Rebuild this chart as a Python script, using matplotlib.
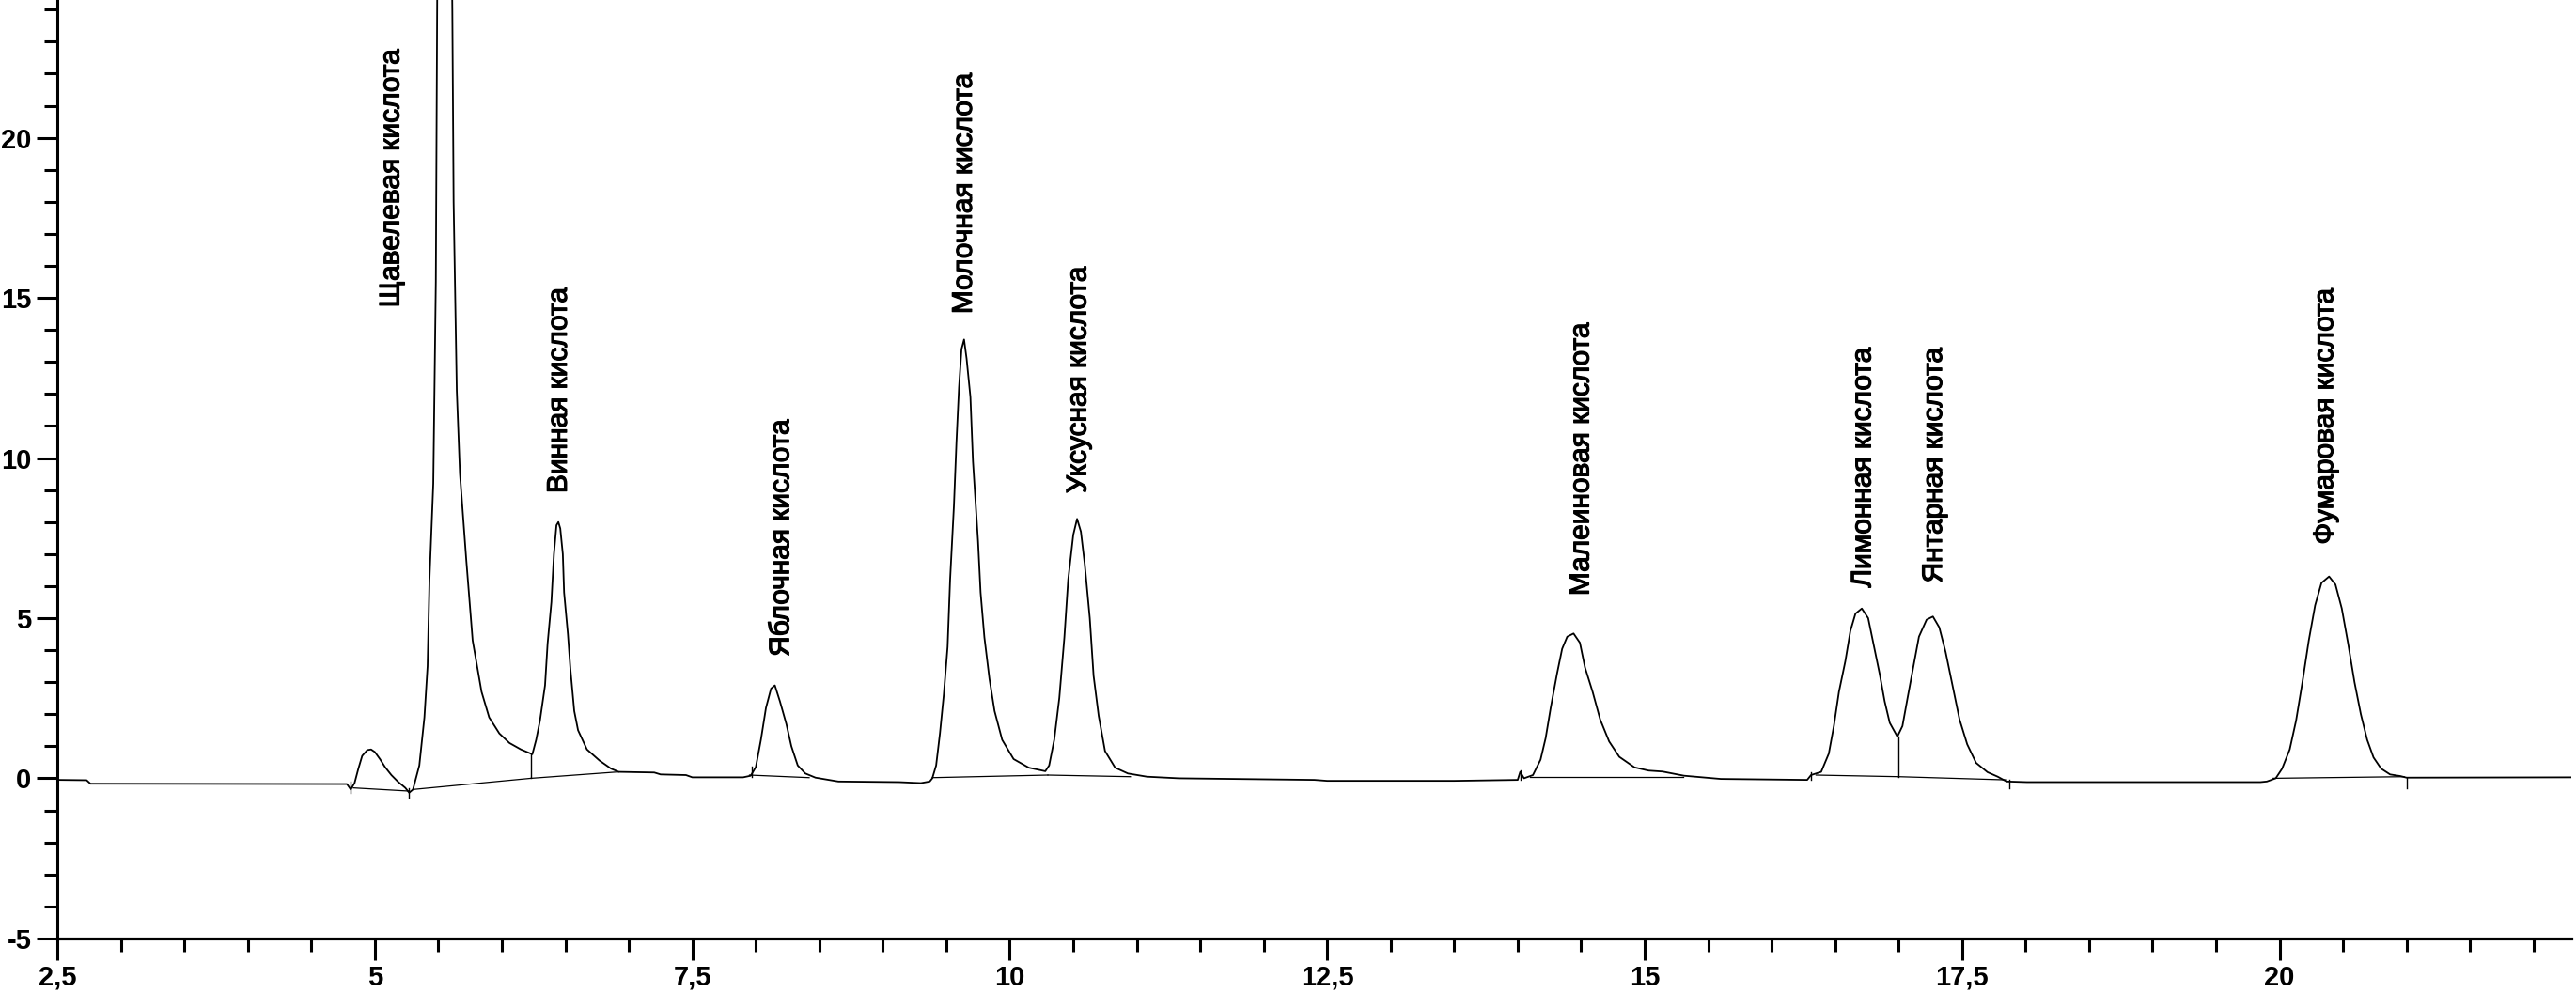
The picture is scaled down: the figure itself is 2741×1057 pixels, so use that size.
import matplotlib
matplotlib.use("Agg")
import matplotlib.pyplot as plt
import matplotlib.patheffects as pe
from matplotlib.ticker import MultipleLocator, FuncFormatter

# ---- trace (time, min ; signal) ----
trace_t = [2.50, 2.73, 2.76, 4.78, 4.81, 4.84, 4.87, 4.90, 4.94, 4.97, 5.00, 5.04, 5.08, 5.13, 5.18,
           5.24, 5.27, 5.30, 5.35, 5.39, 5.415, 5.43, 5.46, 5.48, 5.49, 5.50, 5.55, 5.60, 5.61, 5.62,
           5.645, 5.67, 5.72, 5.77, 5.84, 5.90, 5.98, 6.06, 6.15, 6.24, 6.27, 6.30, 6.34, 6.36, 6.39,
           6.41, 6.43, 6.445, 6.46, 6.48, 6.49, 6.52, 6.54, 6.57, 6.60, 6.67, 6.77, 6.86, 6.92, 7.20,
           7.25, 7.45, 7.50, 7.90, 7.96, 8.00, 8.04, 8.08, 8.12, 8.15, 8.19, 8.24, 8.28, 8.33, 8.39,
           8.47, 8.65, 9.13, 9.30, 9.37, 9.39, 9.42, 9.45, 9.48, 9.51, 9.53, 9.56, 9.58, 9.60, 9.62,
           9.64, 9.66, 9.69, 9.71, 9.75, 9.77, 9.80, 9.84, 9.88, 9.94, 10.03, 10.15, 10.28, 10.31, 10.35,
           10.39, 10.43, 10.46, 10.50, 10.53, 10.56, 10.59, 10.63, 10.66, 10.70, 10.75, 10.83, 10.93, 11.08, 11.33,
           12.4, 12.5, 13.5, 14.0, 14.02, 14.05, 14.12, 14.18, 14.22, 14.26, 14.31, 14.35, 14.39, 14.44, 14.49,
           14.53, 14.59, 14.65, 14.72, 14.80, 14.92, 15.03, 15.14, 15.31, 15.6, 16.28, 16.31, 16.39, 16.45, 16.49,
           16.53, 16.58, 16.62, 16.66, 16.71, 16.76, 16.80, 16.85, 16.89, 16.93, 16.99, 17.03, 17.07, 17.12, 17.16,
           17.22, 17.27, 17.32, 17.37, 17.43, 17.48, 17.54, 17.61, 17.70, 17.78, 17.85, 18.01, 19.85, 19.90, 19.97,
           20.02, 20.08, 20.13, 20.18, 20.23, 20.28, 20.33, 20.39, 20.44, 20.49, 20.54, 20.59, 20.64, 20.69, 20.74,
           20.80, 20.87, 20.95, 21.0, 22.3]
trace_v = [-0.05, -0.06, -0.17, -0.18, -0.35, -0.15, 0.3, 0.7, 0.88, 0.9, 0.82, 0.6, 0.35, 0.1, -0.1,
           -0.3, -0.45, -0.35, 0.4, 1.9, 3.5, 6.2, 9.2, 15.5, 24.0, 28.0, 31.0, 28.0, 24.0, 18.0,
           12.1, 9.5, 6.8, 4.3, 2.7, 1.9, 1.4, 1.1, 0.9, 0.75, 1.2, 1.8, 2.9, 4.2, 5.5,
           7.0, 7.9, 8.0, 7.8, 7.0, 5.8, 4.5, 3.4, 2.1, 1.5, 0.9, 0.55, 0.3, 0.2, 0.18,
           0.12, 0.1, 0.03, 0.03, 0.08, 0.35, 1.2, 2.2, 2.8, 2.9, 2.4, 1.7, 1.0, 0.4, 0.15,
           0.02, -0.1, -0.12, -0.15, -0.1, 0.0, 0.4, 1.4, 2.6, 4.1, 6.2, 8.5, 10.5, 12.2, 13.4,
           13.7, 13.1, 11.9, 9.9, 7.4, 5.8, 4.4, 3.1, 2.1, 1.2, 0.6, 0.33, 0.22, 0.4, 1.2,
           2.5, 4.4, 6.2, 7.6, 8.1, 7.7, 6.7, 5.0, 3.2, 1.95, 0.85, 0.33, 0.15, 0.05, 0.0,
           -0.05, -0.08, -0.08, -0.05, 0.2, 0.0, 0.1, 0.58, 1.25, 2.2, 3.27, 4.04, 4.42, 4.52, 4.23,
           3.46, 2.7, 1.83, 1.15, 0.67, 0.34, 0.24, 0.21, 0.08, -0.02, -0.05, 0.1, 0.2, 0.77, 1.63,
           2.7, 3.65, 4.6, 5.14, 5.3, 5.0, 4.23, 3.27, 2.4, 1.73, 1.3, 1.63, 2.5, 3.56, 4.42,
           4.95, 5.05, 4.71, 3.94, 2.79, 1.83, 1.06, 0.48, 0.19, 0.05, -0.1, -0.12, -0.12, -0.1, 0.0,
           0.3, 0.9, 1.8, 3.0, 4.3, 5.4, 6.1, 6.3, 6.05, 5.3, 4.2, 3.0, 2.0, 1.2, 0.65,
           0.3, 0.12, 0.07, 0.02, 0.03]

# integration baselines under the peaks: (t0, v0, t1, v1)
base_segs = [(4.83, -0.3, 5.27, -0.4), (5.30, -0.35, 6.23, 0.0), (6.23, 0.0, 6.92, 0.2),
             (7.95, 0.1, 8.42, 0.02), (9.39, 0.02, 10.30, 0.1), (10.30, 0.1, 10.95, 0.05),
             (14.10, 0.05, 15.30, 0.05), (16.35, 0.1, 17.00, 0.05), (17.00, 0.05, 17.85, -0.05),
             (19.95, 0.0, 20.98, 0.05)]
# drop lines / integration marks: (t, v_low, v_high)
drop_marks = [(6.23, 0.0, 0.75), (17.00, 0.05, 1.3), (4.81, -0.45, -0.1), (5.27, -0.6, -0.3),
              (7.97, 0.05, 0.35), (14.02, -0.05, 0.25), (16.31, -0.05, 0.2), (17.87, -0.3, -0.05),
              (21.0, -0.3, 0.02)]

# peak labels (name, time, bottom of text)
peak_names = ["Щавелевая кислота", "Винная кислота", "Яблочная кислота", "Молочная кислота",
              "Уксусная кислота", "Малеиновая кислота", "Лимонная кислота", "Янтарная кислота",
              "Фумаровая кислота"]
peak_t = [5.13, 6.45, 8.20, 9.64, 10.54, 14.50, 16.72, 17.28, 20.36]
label_y = [14.7, 8.9, 3.8, 14.5, 8.9, 5.7, 5.95, 6.1, 7.3]

plt.rcParams["font.family"] = ["Liberation Sans", "DejaVu Sans"]

fig = plt.figure(figsize=(27.41, 10.57), dpi=100)
ax = fig.add_axes([0.0223, 0.055, 0.976, 0.945])

ax.plot(trace_t, trace_v, color="black", lw=1.3)
for t0, v0, t1, v1 in base_segs:
    ax.plot([t0, t1], [v0, v1], color="black", lw=0.9)
for t, a, b in drop_marks:
    ax.plot([t, t], [a, b], color="black", lw=1.0)

# heavy look of the scanned labels: thin stroke around regular glyphs
heavy = [pe.withStroke(linewidth=0.9, foreground="black")]
for name, t, y in zip(peak_names, peak_t, label_y):
    ax.text(t, y, name, rotation=90, ha="center", va="bottom", fontsize=21.5,
            path_effects=heavy)

ax.set_xlim(2.5, 22.3)
ax.set_ylim(-5, 24.3)
ax.spines["top"].set_visible(False)
ax.spines["right"].set_visible(False)
ax.spines["bottom"].set_linewidth(2.3)
ax.spines["left"].set_linewidth(2.2)

ax.xaxis.set_major_locator(MultipleLocator(2.5))
ax.xaxis.set_minor_locator(MultipleLocator(0.5))
ax.yaxis.set_major_locator(MultipleLocator(5))
ax.yaxis.set_minor_locator(MultipleLocator(1))
comma = FuncFormatter(lambda v, p: f"{v:g}".replace(".", ","))
ax.xaxis.set_major_formatter(comma)
ax.yaxis.set_major_formatter(comma)

ax.tick_params(axis="x", which="major", length=16.5, width=2.2, pad=3.5)
ax.tick_params(axis="x", which="minor", length=10, width=2.2)
ax.tick_params(axis="y", which="major", length=16, width=2.2, pad=4)
ax.tick_params(axis="y", which="minor", length=10, width=2.2)
for lab in ax.get_xticklabels() + ax.get_yticklabels():
    lab.set_fontfamily(["Liberation Sans", "DejaVu Sans"])
    lab.set_fontweight("bold")
    lab.set_fontsize(21)

fig.savefig("out.png", dpi=100)
